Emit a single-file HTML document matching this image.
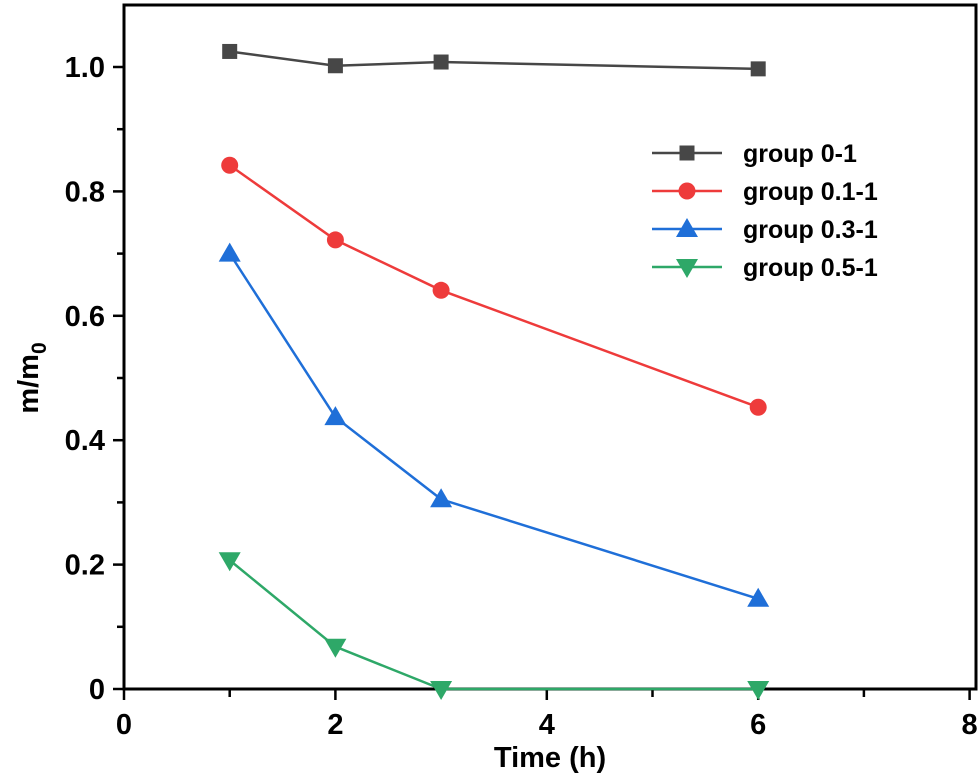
<!DOCTYPE html>
<html><head><meta charset="utf-8"><style>
body{margin:0;background:#fff}
svg text{font-family:"Liberation Sans",Arial,sans-serif;font-weight:bold}
</style></head><body>
<svg id="chart" width="979" height="779" xmlns="http://www.w3.org/2000/svg">
<g id="axes"></g><g id="series"></g><g id="legend"></g>
</svg>
<script>
const categories=[1,2,3,6];
const s0=[1.025,1.002,1.008,0.997];
const s1=[0.842,0.722,0.641,0.453];
const s2=[0.70,0.437,0.305,0.145];
const s3=[0.207,0.068,0,0];
const seriesNames=["group 0-1","group 0.1-1","group 0.3-1","group 0.5-1"];
const xTicks=[0,2,4,6,8];
const yTicks=[0,0.2,0.4,0.6,0.8,1.0];
const yTickLabels=["0","0.2","0.4","0.6","0.8","1.0"];
const NS="http://www.w3.org/2000/svg";
const X=v=>124+v*105.7;
const Y=v=>689-v*622;
function mk(tag,attrs,parent){const e=document.createElementNS(NS,tag);for(const k in attrs)e.setAttribute(k,attrs[k]);parent.appendChild(e);return e;}
const ax=document.getElementById('axes');
const frame=mk('rect',{x:124,y:5,width:852,height:684,fill:'none',stroke:'#000','stroke-width':3},ax);


for(let v=0;v<=8;v++){const major=v%2==0;
 const t=mk('line',{x1:X(v),x2:X(v),y1:689,y2:major?700:697,stroke:'#000','stroke-width':2.5},ax);
 
 }
xTicks.forEach(v=>{const t=mk('text',{x:X(v),y:734,'font-size':29,'text-anchor':'middle'},ax);t.textContent=v;
 
 });
for(let i=0;i<=10;i++){const v=i*0.1;const major=i%2==0;
 const t=mk('line',{x1:major?113:117,x2:124,y1:Y(v),y2:Y(v),stroke:'#000','stroke-width':2.5},ax);
 
 }
yTicks.forEach((v,i)=>{const t=mk('text',{x:105,y:Y(v)+10,'font-size':29,'text-anchor':'end'},ax);t.textContent=yTickLabels[i];
 
 });
const xt=mk('text',{x:550,y:767,'font-size':29,'text-anchor':'middle'},ax);xt.textContent='Time (h)';


const yt=mk('text',{x:0,y:0,'font-size':29,'text-anchor':'middle',transform:'translate(38,378) rotate(-90)'},ax);
yt.innerHTML='m/m<tspan font-size="21" dy="8">0</tspan>';


const colors=['#474747','#ee3b3b','#1f6fd8','#2ea868'];
const data=[s0,s1,s2,s3];
function marker(k,cx,cy,parent){
 if(k==0)return mk('rect',{x:cx-7.5,y:cy-7.5,width:15,height:15,fill:colors[k]},parent);
 if(k==1)return mk('circle',{cx:cx,cy:cy,r:8.5,fill:colors[k]},parent);
 if(k==2)return mk('polygon',{points:`${cx},${cy-11} ${cx-11},${cy+8} ${cx+11},${cy+8}`,fill:colors[k]},parent);
 return mk('polygon',{points:`${cx},${cy+11} ${cx-11},${cy-8} ${cx+11},${cy-8}`,fill:colors[k]},parent);}
const sg=document.getElementById('series');
data.forEach((arr,k)=>{
 const pts=arr.map((v,i)=>X(categories[i])+','+Y(v)).join(' ');
 const l=mk('polyline',{points:pts,fill:'none',stroke:colors[k],'stroke-width':2.5},sg);
 
 
 arr.forEach((v,i)=>{const m=marker(k,X(categories[i]),Y(v),sg);
  
  });
});
const lg=document.getElementById('legend');
seriesNames.forEach((n,k)=>{const y=153+k*38;
 const l=mk('line',{x1:652,x2:722,y1:y,y2:y,stroke:colors[k],'stroke-width':2.5},lg);
 
 
 const m=marker(k,687,y,lg);
 
 
 const t=mk('text',{x:743,y:y+9,'font-size':25},lg);t.textContent=n;
 
 });
</script>
</body></html>
